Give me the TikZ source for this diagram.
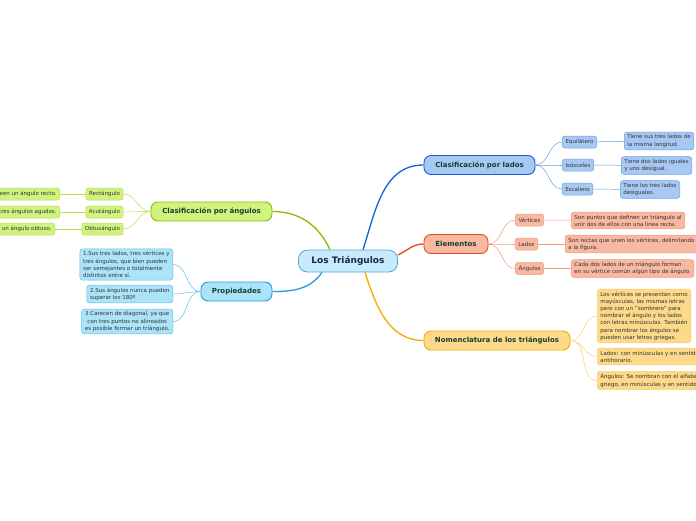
\documentclass[tikz,border=0pt]{standalone}
\usepackage{fontspec}
\setmainfont{DejaVu Sans}
\usetikzlibrary{positioning}
\definecolor{mmcore}{HTML}{C8EBFB}
\definecolor{mmcoreln}{HTML}{4FA8DD}
\definecolor{mmcoretxt}{HTML}{15294A}
\definecolor{mmblue}{HTML}{1560D2}
\definecolor{mmbluefill}{HTML}{A8C8F4}
\definecolor{mmbluesub}{HTML}{6A9EEA}
\definecolor{mmred}{HTML}{E8491E}
\definecolor{mmredfill}{HTML}{F9B8A2}
\definecolor{mmredsub}{HTML}{F39A7A}
\definecolor{mmamber}{HTML}{F5AA00}
\definecolor{mmamberfill}{HTML}{FDD98A}
\definecolor{mmambersub}{HTML}{FAD06A}
\definecolor{mmlime}{HTML}{8DBA00}
\definecolor{mmlimefill}{HTML}{D0F37E}
\definecolor{mmlimesub}{HTML}{B8E04E}
\definecolor{mmsky}{HTML}{1E9EDF}
\definecolor{mmskyfill}{HTML}{ABE3F9}
\definecolor{mmskysub}{HTML}{5CC0EA}
\definecolor{mmtext}{HTML}{173F2F}
\definecolor{mmsmall}{HTML}{333333}

\begin{document}
\begin{tikzpicture}[x=1pt,y=1pt,
  topicbox/.style={rounded corners=7pt,line width=0.9pt,inner xsep=8pt,minimum height=19pt,
    text=mmtext,font=\fontsize{7}{8}\selectfont\bfseries},
  subbox/.style={rounded corners=2.5pt,line width=0.5pt,inner xsep=3.2pt,inner ysep=1.5pt,
    minimum height=12pt,text=mmsmall,font=\fontsize{5.5}{7.2}\selectfont},
  leafbox/.style={subbox,align=left,inner xsep=3.2pt,inner ysep=2.5pt},
  link/.style={line width=1.3pt},
  twig/.style={line width=0.5pt}]
\useasboundingbox (0,0) rectangle (696,-520);
\clip (0,0) rectangle (696,-520);

% centre
\node[draw=mmcoreln,fill=mmcore,rounded corners=9pt,line width=0.8pt,minimum width=99pt,
      minimum height=22pt,text=mmcoretxt,font=\fontsize{9}{10}\selectfont\bfseries]
  (tri) at (348,-261) {Los Triángulos};

% main topics
\node[topicbox,draw=mmblue,fill=mmbluefill,minimum width=111pt] (lados) at (479.5,-165) {Clasificación por lados};
\node[topicbox,draw=mmred,fill=mmredfill,minimum width=64pt] (elem) at (456,-244) {Elementos};
\node[topicbox,draw=mmamber,fill=mmamberfill,minimum width=146pt] (nomen) at (497,-340.5) {Nomenclatura de los triángulos};
\node[topicbox,draw=mmlime,fill=mmlimefill,minimum width=121pt] (angul) at (211.5,-211.5) {Clasificación por ángulos};
\node[topicbox,draw=mmsky,fill=mmskyfill,minimum width=71pt] (props) at (236.5,-291.5) {Propiedades};

% por lados
\node[subbox,draw=mmbluesub,fill=mmbluefill] (equi) at (579.5,-142) {Equilátero};
\node[subbox,draw=mmbluesub,fill=mmbluefill] (isos) at (578,-165) {Isósceles};
\node[subbox,draw=mmbluesub,fill=mmbluefill] (esca) at (577.5,-189) {Escaleno};
\node[leafbox,draw=mmbluesub,fill=mmbluefill,anchor=west] (equiT) at (624,-141) {Tiene sus tres lados de\\la misma longitud.};
\node[leafbox,draw=mmbluesub,fill=mmbluefill,anchor=west] (isosT) at (621,-165.5) {Tiene dos lados iguales\\y uno desigual.};
\node[leafbox,draw=mmbluesub,fill=mmbluefill,anchor=west] (escaT) at (620,-189.5) {Tiene los tres lados\\desiguales.};

% elementos
\node[subbox,draw=mmredsub,fill=mmredfill] (vert) at (529.5,-220) {Vértices};
\node[subbox,draw=mmredsub,fill=mmredfill] (lado) at (526.5,-244) {Lados};
\node[subbox,draw=mmredsub,fill=mmredfill] (angu) at (529.5,-268.5) {Ángulos};
\node[leafbox,draw=mmredsub,fill=mmredfill,anchor=west] (vertT) at (571,-220.5) {Son puntos que definen un triángulo al\\unir dos de ellos con una línea recta.};
\node[leafbox,draw=mmredsub,fill=mmredfill,anchor=west] (ladoT) at (565,-244) {Son rectas que unen los vértices, delimitando\\a la figura.};
\node[leafbox,draw=mmredsub,fill=mmredfill,anchor=west] (anguT) at (571,-268.5) {Cada dos lados de un triángulo forman\\en su vértice común algún tipo de ángulo.};

% nomenclatura
\node[leafbox,draw=mmambersub,fill=mmamberfill,anchor=west] (nom1) at (597,-316) {Los vértices se presentan como\\mayúsculas, las mismas letras\\pero con un "sombrero" para\\nombrar el ángulo y los lados\\con letras minúsculas. También\\para nombrar los ángulos se\\pueden usar letras griegas.};
\node[leafbox,draw=mmambersub,fill=mmamberfill,anchor=west] (nom2) at (597,-356.5) {Lados: con minúsculas y en sentido\\antihorario.};
\node[leafbox,draw=mmambersub,fill=mmamberfill,anchor=west] (nom3) at (597,-380.5) {Ángulos: Se nombran con el alfabeto\\griego, en minúsculas y en sentido antihorario.};

% por angulos
\node[subbox,draw=mmlimesub,fill=mmlimefill] (rect) at (104.5,-194) {Rectángulo};
\node[subbox,draw=mmlimesub,fill=mmlimefill] (acut) at (104.5,-212) {Acutángulo};
\node[subbox,draw=mmlimesub,fill=mmlimefill] (obtu) at (102.5,-229) {Obtusángulo};
\node[subbox,draw=mmlimesub,fill=mmlimefill,anchor=east] (rectT) at (60,-194) {Poseen un ángulo recto.};
\node[subbox,draw=mmlimesub,fill=mmlimefill,anchor=east] (acutT) at (60,-212) {Poseen tres ángulos agudos.};
\node[subbox,draw=mmlimesub,fill=mmlimefill,anchor=east] (obtuT) at (55,-229) {Poseen un ángulo obtuso.};

% propiedades
\node[leafbox,draw=mmskysub,fill=mmskyfill,anchor=east] (prop1) at (173,-264.5) {1.Sus tres lados, tres vértices y\\tres ángulos, que bien pueden\\ser semejantes o totalmente\\distintos entre sí.};
\node[leafbox,draw=mmskysub,fill=mmskyfill,anchor=east] (prop2) at (173,-294) {2.Sus ángulos nunca pueden\\superar los 180º};
\node[leafbox,draw=mmskysub,fill=mmskyfill,anchor=east,align=center] (prop3) at (173,-321.5) {3.Carecen de diagonal, ya que\\con tres puntos no alineados\\es posible formar un triángulo.};

% main links
\draw[link,mmblue] ([xshift=15pt]tri.north) to[out=72,in=180] (lados.west);
\draw[link,mmred] ([yshift=6pt]tri.east) to[out=25,in=180] (elem.west);
\draw[link,mmamber] ([xshift=17pt]tri.south) to[out=-72,in=180] (nomen.west);
\draw[link,mmlime] ([xshift=-18pt]tri.north) to[out=115,in=0] (angul.east);
\draw[link,mmsky] ([xshift=-26pt]tri.south) to[out=-125,in=0] (props.east);

% twigs
\foreach \s in {equi,isos,esca}
  \draw[twig,mmbluesub] (lados.east) to[out=0,in=180] (\s.west);
\draw[twig,mmbluesub] (equi) -- (equiT); \draw[twig,mmbluesub] (isos) -- (isosT);
\draw[twig,mmbluesub] (esca) -- (escaT);
\foreach \s in {vert,lado,angu}
  \draw[twig,mmredsub] (elem.east) to[out=0,in=180] (\s.west);
\draw[twig,mmredsub] (vert) -- (vertT); \draw[twig,mmredsub] (lado) -- (ladoT);
\draw[twig,mmredsub] (angu) -- (anguT);
\foreach \s in {nom1,nom2,nom3}
  \draw[twig,mmambersub] (nomen.east) to[out=0,in=180] (\s.west);
\foreach \s in {rect,acut,obtu}
  \draw[twig,mmlimesub] (angul.west) to[out=180,in=0] (\s.east);
\draw[twig,mmlimesub] (rect) -- (rectT); \draw[twig,mmlimesub] (acut) -- (acutT);
\draw[twig,mmlimesub] (obtu) -- (obtuT);
\foreach \s in {prop1,prop2,prop3}
  \draw[twig,mmskysub] (props.west) to[out=180,in=0] (\s.east);
\end{tikzpicture}
\end{document}
